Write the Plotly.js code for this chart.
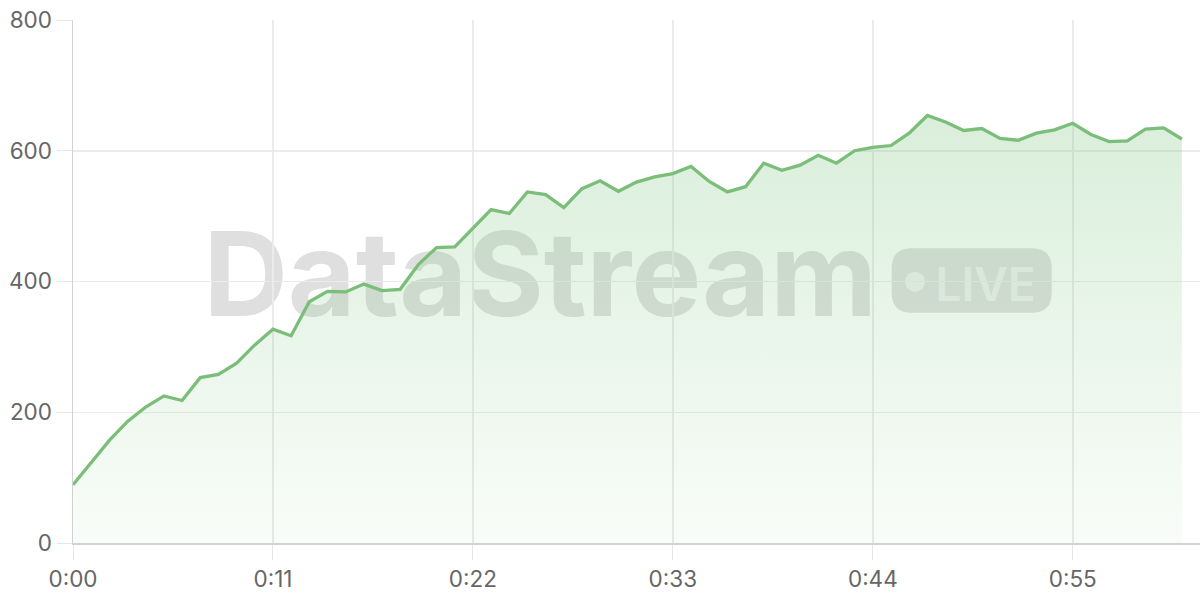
<!DOCTYPE html>
<html>
<head>
<meta charset="utf-8">
<script src="https://cdn.plot.ly/plotly-3.0.1.min.js"></script>
<style>
  html, body { margin: 0; padding: 0; background: #fff; }
  #myDiv { width: 1200px; height: 600px; }
</style>
</head>
<body>
<div id="myDiv"></div>
<script>
// one reading per second
var seconds = [0, 1, 2, 3, 4, 5, 6, 7, 8, 9, 10, 11, 12, 13, 14, 15, 16, 17, 18, 19, 20,
  21, 22, 23, 24, 25, 26, 27, 28, 29, 30, 31, 32, 33, 34, 35, 36, 37, 38, 39, 40,
  41, 42, 43, 44, 45, 46, 47, 48, 49, 50, 51, 52, 53, 54, 55, 56, 57, 58, 59, 60, 61];
var values = [89, 124, 157, 186, 208, 225, 218, 253, 258, 275, 303, 327, 317, 369, 385, 384,
  396, 386, 388, 426, 452, 453, 481, 510, 504, 537, 533, 513, 542, 554, 538, 552, 560,
  565, 576, 553, 537, 545, 581, 570, 578, 593, 581, 600, 605, 608, 627, 654, 644, 631,
  634, 619, 616, 627, 632, 642, 625, 614, 615, 633, 635, 618];

var tickSeconds = [0, 11, 22, 33, 44, 55];
var tickLabels = ['0:00', '0:11', '0:22', '0:33', '0:44', '0:55'];

var trace = {
  x: seconds,
  y: values,
  type: 'scatter',
  mode: 'lines',
  line: {color: 'rgb(122,190,122)', width: 3.3},
  fill: 'tozeroy',
  fillgradient: {
    type: 'vertical',
    start: 0,
    stop: 660,
    colorscale: [[0, 'rgba(129,199,132,0.05)'], [1, 'rgba(129,199,132,0.3)']]
  },
  hoverinfo: 'skip'
};

// rounded box for the LIVE badge, in data units
function roundRect(x0, y0, x1, y1, rx, ry) {
  return 'M' + (x0 + rx) + ',' + y0 +
    ' L' + (x1 - rx) + ',' + y0 + ' Q' + x1 + ',' + y0 + ' ' + x1 + ',' + (y0 + ry) +
    ' L' + x1 + ',' + (y1 - ry) + ' Q' + x1 + ',' + y1 + ' ' + (x1 - rx) + ',' + y1 +
    ' L' + (x0 + rx) + ',' + y1 + ' Q' + x0 + ',' + y1 + ' ' + x0 + ',' + (y1 - ry) +
    ' L' + x0 + ',' + (y0 + ry) + ' Q' + x0 + ',' + y0 + ' ' + (x0 + rx) + ',' + y0 + ' Z';
}

var noLine = {width: 0};
var shapes = [
  {
    type: 'rect', xref: 'x', yref: 'y', layer: 'below',
    x0: 25.6, x1: 25.8, y0: 418, y1: 420,
    line: noLine, fillcolor: 'rgba(0,0,0,0)',
    label: {
      text: 'DataStream',
      textposition: 'middle center',
      font: {family: 'Inter', size: 117, weight: 700, color: 'rgba(128,128,128,0.25)'}
    }
  },
  {
    type: 'path', xref: 'x', yref: 'y', layer: 'below',
    path: roundRect(45.04, 352.3, 53.84, 450.8, 1.1, 30.6),
    line: noLine, fillcolor: 'rgba(128,128,128,0.25)'
  },
  {
    type: 'circle', xref: 'x', yref: 'y', layer: 'below',
    x0: 45.77, x1: 46.87, y0: 384.4, y1: 415.0,
    line: noLine, fillcolor: 'rgba(255,255,255,0.55)'
  },
  {
    type: 'rect', xref: 'x', yref: 'y', layer: 'below',
    x0: 50.1, x1: 50.3, y0: 397, y1: 399,
    line: noLine, fillcolor: 'rgba(0,0,0,0)',
    label: {
      text: 'LIVE',
      textposition: 'middle center',
      font: {family: 'Inter', size: 46, weight: 600, color: 'rgba(255,255,255,0.55)'}
    }
  }
];

var layout = {
  width: 1200,
  height: 600,
  margin: {l: 73, r: 0, t: 20, b: 57},
  paper_bgcolor: '#fff',
  plot_bgcolor: '#fff',
  showlegend: false,
  font: {family: 'Inter, "Noto Sans", sans-serif', size: 22.5, color: '#666'},
  xaxis: {
    range: [0, 62],
    tickvals: tickSeconds,
    ticktext: tickLabels,
    ticks: 'outside',
    ticklen: 15,
    tickcolor: '#e6e6e6',
    showgrid: true,
    gridcolor: '#ebebeb',
    gridwidth: 1.5,
    showline: true,
    linecolor: '#d2d2d2',
    linewidth: 1.5,
    zeroline: false,
    fixedrange: true
  },
  yaxis: {
    range: [0, 800],
    dtick: 200,
    ticks: 'outside',
    ticklen: 15,
    tickcolor: '#e6e6e6',
    showgrid: true,
    gridcolor: '#ebebeb',
    gridwidth: 1.5,
    showline: true,
    linecolor: '#d2d2d2',
    linewidth: 1.5,
    zeroline: false,
    fixedrange: true
  },
  shapes: shapes
};

Plotly.newPlot('myDiv', [trace], layout, {displayModeBar: false, staticPlot: true});
</script>
</body>
</html>
